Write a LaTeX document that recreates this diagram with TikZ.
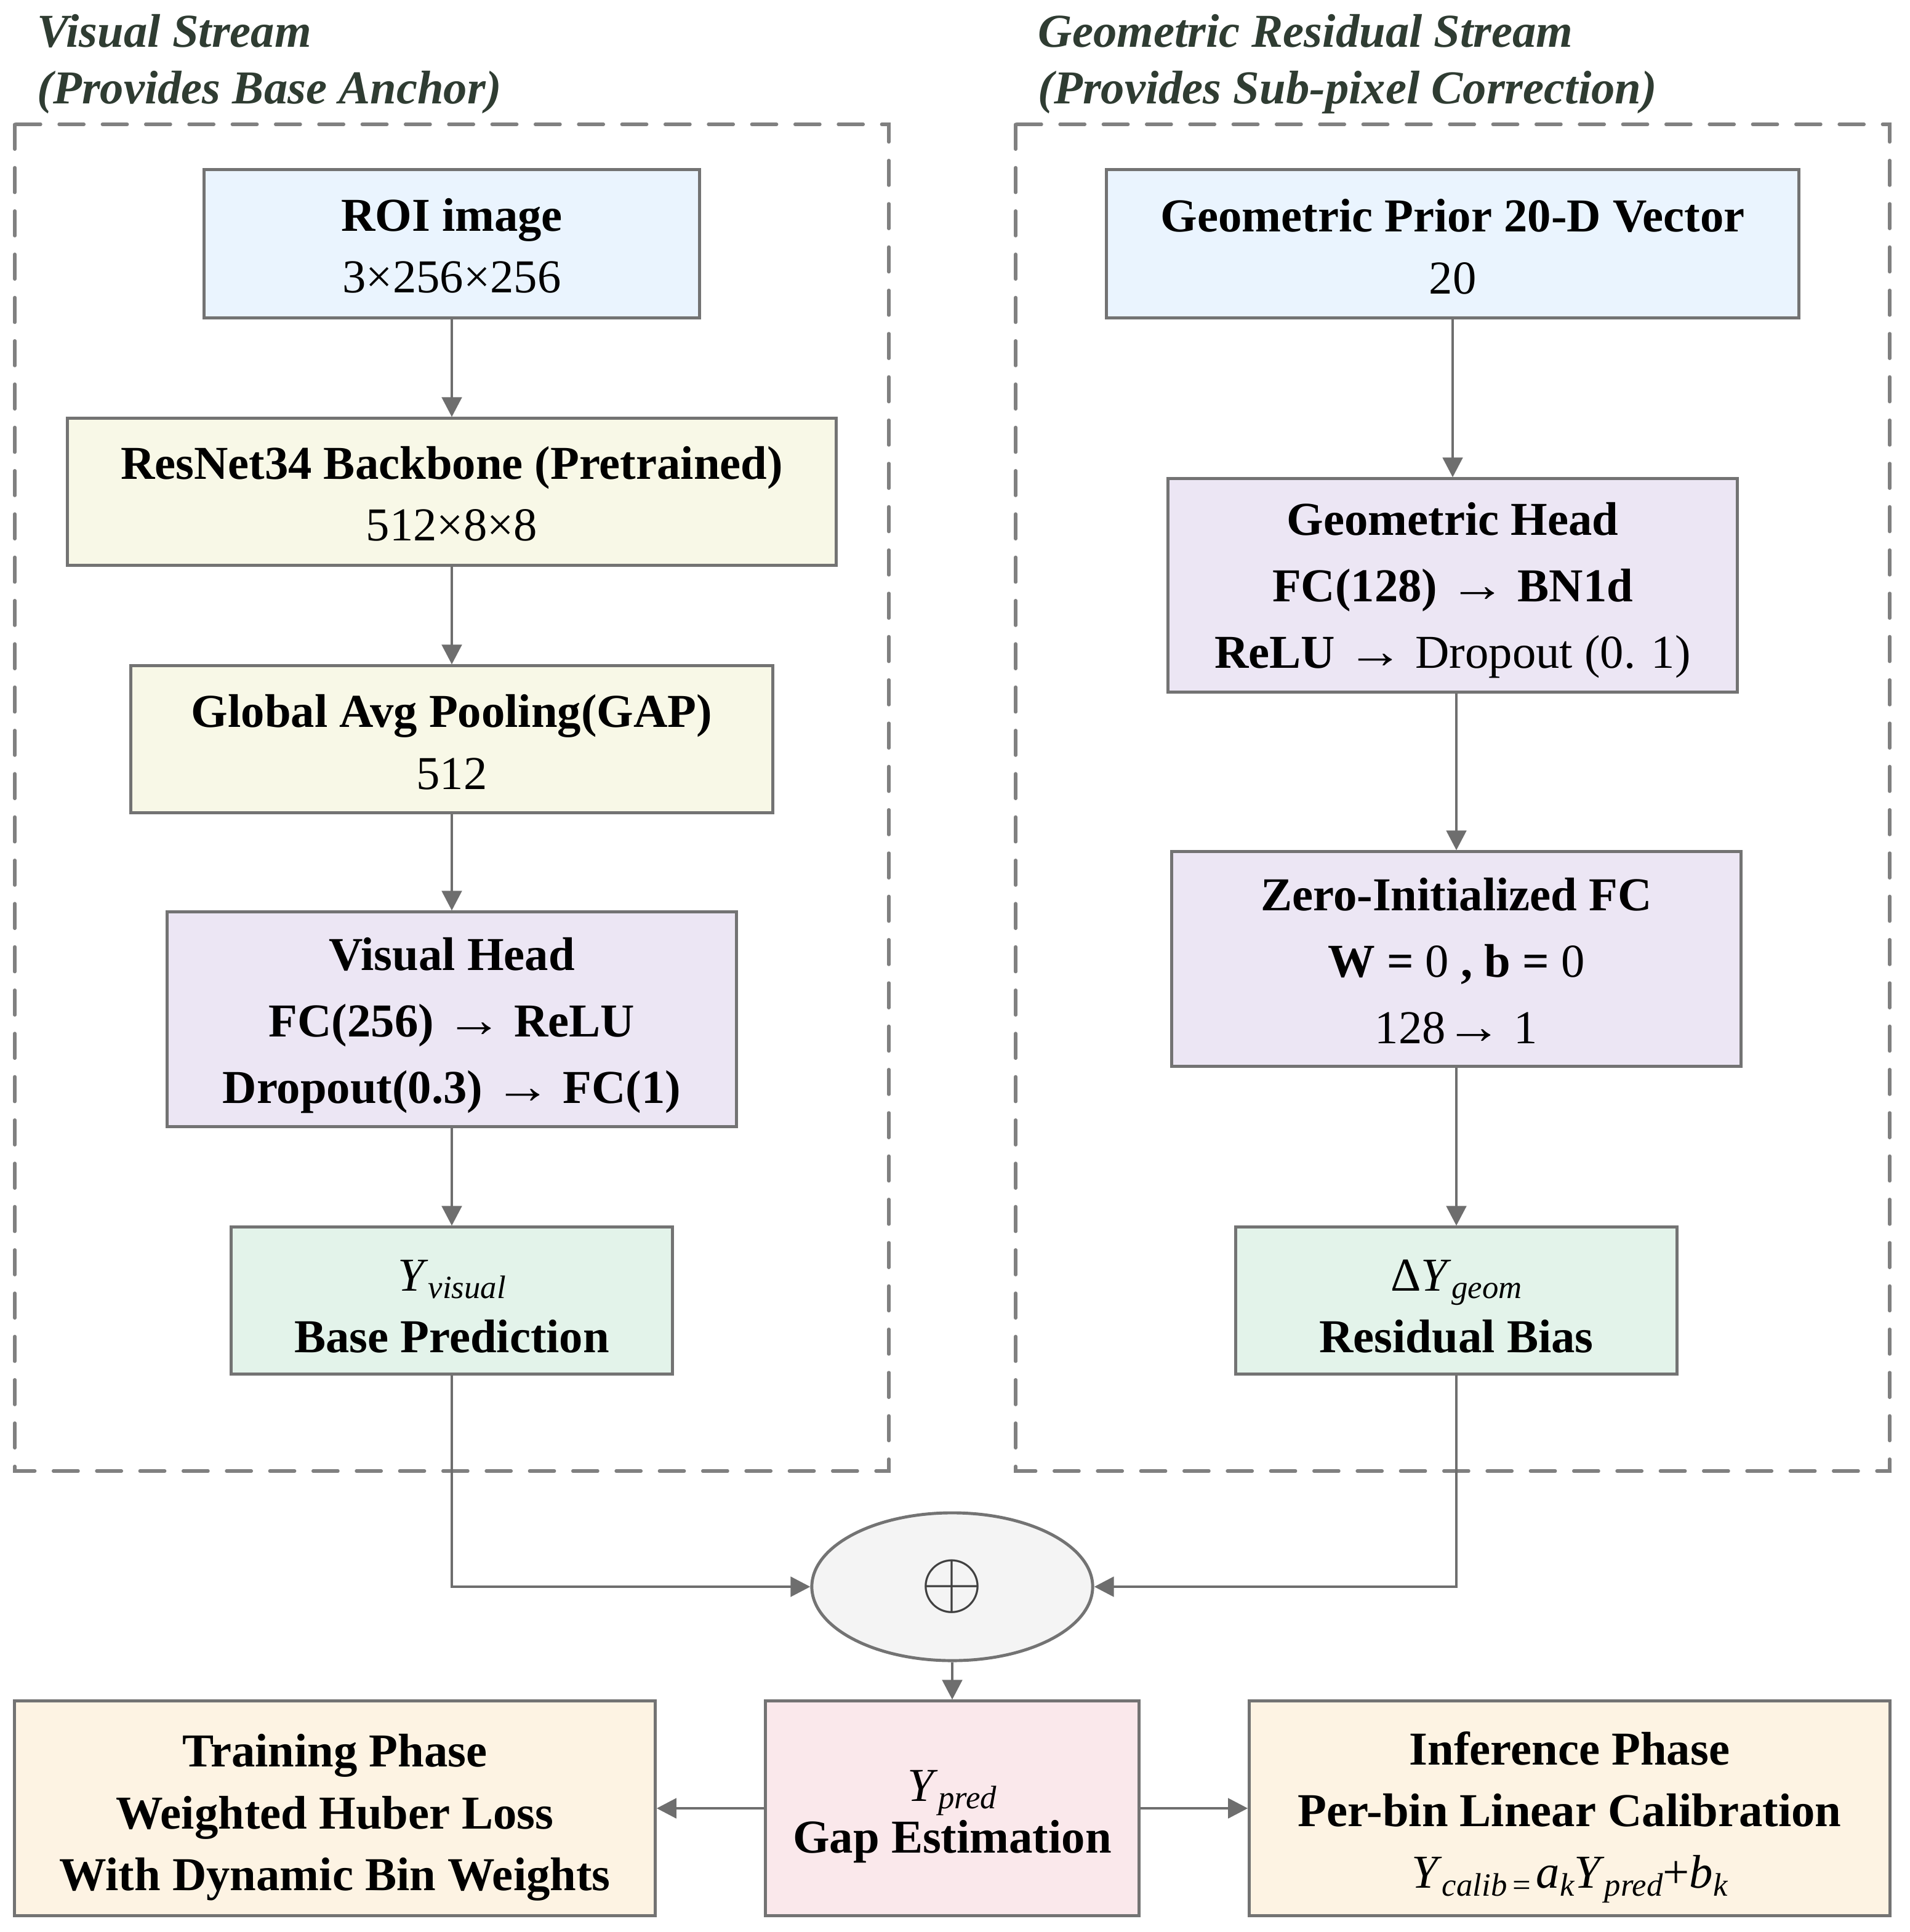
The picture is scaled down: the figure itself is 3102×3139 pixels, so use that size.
\documentclass[tikz,border=0pt]{standalone}
\usepackage{fontspec}
\setmainfont{Liberation Serif}
\usetikzlibrary{arrows.meta,shapes.geometric}
\definecolor{boxline}{RGB}{115,115,115}
\definecolor{arrc}{RGB}{110,110,110}
\definecolor{dashc}{RGB}{128,128,128}
\definecolor{ctitle}{RGB}{47,60,50}
\definecolor{cblue}{RGB}{234,244,254}
\definecolor{cyellow}{RGB}{248,248,231}
\definecolor{clav}{RGB}{236,230,244}
\definecolor{cgreen}{RGB}{227,243,234}
\definecolor{cgray}{RGB}{244,244,244}
\definecolor{cpink}{RGB}{250,232,235}
\definecolor{corange}{RGB}{253,243,227}
\definecolor{plusc}{RGB}{64,64,64}
\newcommand{\sbx}[1]{\raisebox{-3.5pt}{\fontsize{15pt}{15pt}\selectfont\normalfont\itshape #1}}
\newcommand{\lift}[1]{\rule{0pt}{\dimexpr 15pt+2\dimexpr #1\relax\relax}}
\newcommand{\ra}{\scalebox{1.2}[1.05]{→}}
\begin{document}
\begin{tikzpicture}[x=0.01cm,y=-0.01cm,
  box/.style={draw=boxline, line width=1.4pt, align=center, inner sep=0pt,
    font=\fontsize{21.8pt}{28.5pt}\selectfont},
  boxiii/.style={box, font=\fontsize{21.8pt}{30.7pt}\selectfont},
  arr/.style={draw=arrc, line width=1.4pt, -{Triangle[length=0.32cm,width=0.32cm]}},
  dashbox/.style={draw=dashc, line width=1.5pt, line cap=round, dash pattern=on 11.5pt off 8.5pt},
  title/.style={anchor=base west, inner sep=0pt, text=ctitle, font=\fontsize{21.8pt}{26pt}\selectfont\bfseries\itshape}
]
\useasboundingbox (0,0) rectangle (3102,3139);

% stream frames
\draw[dashbox] (24,202) rectangle (1444,2390);
\draw[dashbox] (1650,202) rectangle (3070,2390);

% titles
\node[title] (t1a) at (60,76) {Visual Stream};
\node[title] (t1b) at (60,168) {(Provides Base Anchor)};
\node[title] (t2a) at (1686,76) {Geometric Residual Stream};
\node[title] (t2b) at (1686,168) {(Provides Sub-pixel Correction)};

% visual stream
\node[box, fill=cblue, minimum width=8.04cm, minimum height=2.40cm] (roi) at (734,396)
  {\lift{1.1pt}\textbf{ROI image}\\3×256×256};
\node[box, fill=cyellow, minimum width=12.48cm, minimum height=2.38cm] (resnet) at (734,799)
  {\lift{1.1pt}\textbf{ResNet34 Backbone (Pretrained)}\\512×8×8};
\node[box, fill=cyellow, minimum width=10.42cm, minimum height=2.38cm] (gap) at (734,1201)
  {\lift{1.4pt}\textbf{Global Avg Pooling(GAP)}\\512};
\node[boxiii, fill=clav, minimum width=9.24cm, minimum height=3.48cm] (vhead) at (734,1656)
  {\lift{2.8pt}\textbf{Visual Head}\\\textbf{FC(256) \ra{} ReLU}\\\textbf{Dropout(0.3) \ra{} FC(1)}};
\node[box, fill=cgreen, minimum width=7.16cm, minimum height=2.38cm] (yvis) at (734,2113)
  {\lift{2.3pt}\textit{Y}\sbx{visual}\\\textbf{Base Prediction}};

% geometric stream
\node[box, fill=cblue, minimum width=11.24cm, minimum height=2.40cm] (gprior) at (2360,396)
  {\lift{1.4pt}\textbf{Geometric Prior 20-D Vector}\\20};
\node[boxiii, fill=clav, minimum width=9.24cm, minimum height=3.46cm] (ghead) at (2360,951)
  {\lift{2.3pt}\textbf{Geometric Head}\\\textbf{FC(128) \ra{} BN1d}\\\textbf{ReLU \ra{}} Dropout (0. 1)};
\node[boxiii, fill=clav, minimum width=9.24cm, minimum height=3.48cm] (zfc) at (2366,1558)
  {\lift{0.9pt}\textbf{Zero-Initialized FC}\\\textbf{W =} 0 \textbf{, b =} 0\\128\ra{} 1};
\node[box, fill=cgreen, minimum width=7.16cm, minimum height=2.38cm] (dy) at (2366,2113)
  {\lift{2.5pt}Δ\textit{Y}\sbx{geom}\\\textbf{Residual Bias}};

% fusion
\node[ellipse, draw=boxline, fill=cgray, line width=1.4pt, inner sep=0pt,
  minimum width=4.56cm, minimum height=2.40cm] (add) at (1547,2578)
  {\fontsize{30pt}{30pt}\selectfont\color{plusc}\scalebox{1.5}{$\oplus$}};
\node[box, fill=cpink, minimum width=6.06cm, minimum height=3.48cm] (gapest) at (1547,2938)
  {\lift{3.4pt}\textit{Y}\sbx{pred}\\[-4.5pt]\textbf{Gap Estimation}};
\node[box, fill=corange, minimum width=10.40cm, minimum height=3.48cm] (train) at (544,2938)
  {\lift{4.3pt}\textbf{Training Phase}\\\textbf{Weighted Huber Loss}\\\textbf{With Dynamic Bin Weights}};
\node[box, fill=corange, minimum width=10.40cm, minimum height=3.48cm] (infer) at (2550,2938)
  {\lift{4.3pt}\textbf{Inference Phase}\\\textbf{Per-bin Linear Calibration}\\\textit{Y}\sbx{calib\,{\upshape=}\,}\textit{a}\sbx{k}\textit{Y}\sbx{pred}+\textit{b}\sbx{k}};

% connectors
\draw[arr] (roi) -- (resnet);
\draw[arr] (resnet) -- (gap);
\draw[arr] (gap) -- (vhead);
\draw[arr] (vhead) -- (yvis);
\draw[arr] (gprior) -- (ghead);
\draw[arr] (ghead.south -| zfc.north) -- (zfc.north);
\draw[arr] (zfc) -- (dy);
\draw[arr] (yvis.south) |- (add.west);
\draw[arr] (dy.south) |- (add.east);
\draw[arr] (add) -- (gapest);
\draw[arr] (gapest) -- (train);
\draw[arr] (gapest) -- (infer);
\end{tikzpicture}
\end{document}
